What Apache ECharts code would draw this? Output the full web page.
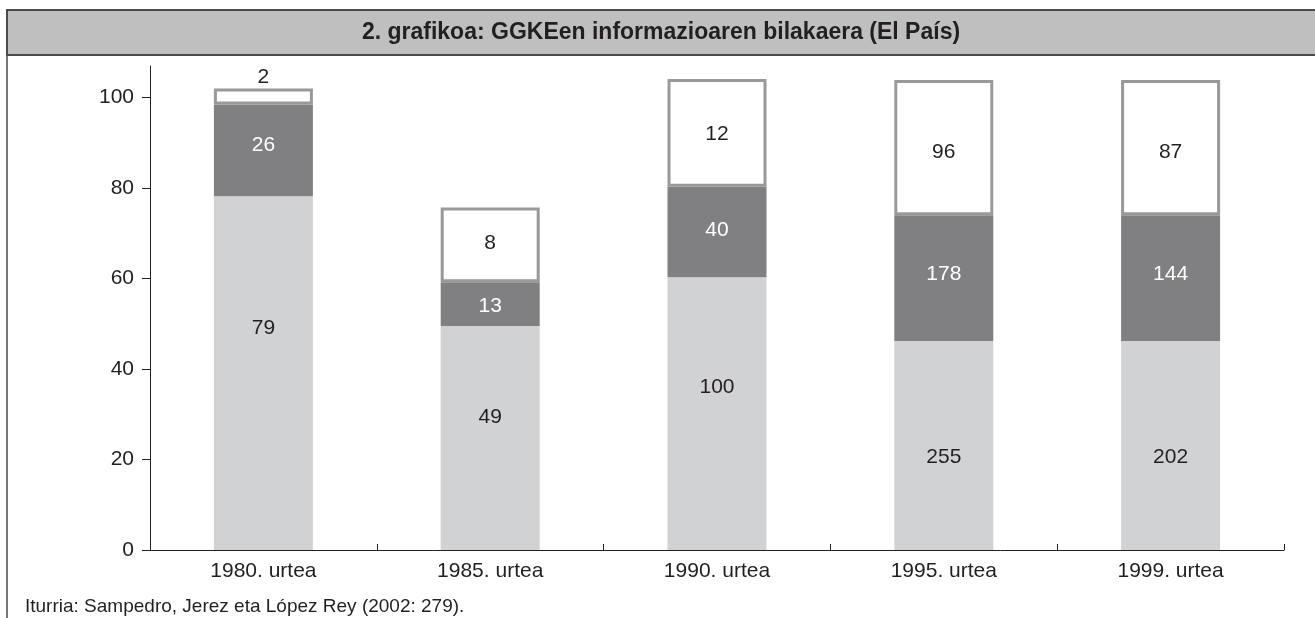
<!DOCTYPE html>
<html>
<head>
<meta charset="utf-8">
<script src="https://cdn.jsdelivr.net/npm/echarts@6/dist/echarts.min.js"></script>
<style>
html,body{margin:0;padding:0;background:#fff;}
#chart{width:1315px;height:618px;}
</style>
</head>
<body>
<div id="chart"></div>
<script>
// ---- data ----
const categories = ['1980. urtea', '1985. urtea', '1990. urtea', '1995. urtea', '1999. urtea'];
// bar segment heights as read from the y-axis
const lightHeights = [78.2, 49.5, 60.3, 46.2, 46.2];
const darkHeights  = [20.3, 9.7, 20.0, 27.8, 27.8];
const whiteHeights = [3.5, 16.5, 23.8, 29.9, 29.9];
// numbers printed on the segments
const lightLabels = [79, 49, 100, 255, 202];
const darkLabels  = [26, 13, 40, 178, 144];
const whiteLabels = [2, 8, 12, 96, 87];
const yTicks = [0, 20, 40, 60, 80, 100];
const titleText = '2. grafikoa: GGKEen informazioaren bilakaera (El País)';
const sourceText = 'Iturria: Sampedro, Jerez eta López Rey (2002: 279).';

// ---- styling ----
const FONT = "'Liberation Sans', Arial, Helvetica, sans-serif";
const TXT = '#231f20';
const lightOffsetY = [-45, -21, -26, 12, 12];
const darkOffsetY = [-5, 2, -2, -4, -4];
const whiteOffsetY = [0, -2, 1, 5, 5];

function items(vals, labels, fn) {
  return vals.map((v, i) => {
    const it = { value: v, lbl: labels[i] };
    const extra = fn ? fn(i) : null;
    if (extra) it.label = extra;
    return it;
  });
}

const chart = echarts.init(document.getElementById('chart'), null, { renderer: 'canvas' });
const labelBase = { show: true, fontFamily: FONT, fontSize: 21, formatter: p => p.data.lbl };

chart.setOption({
  animation: false,
  backgroundColor: '#fff',
  grid: { left: 150, right: 31, top: 66, bottom: 68, containLabel: false },
  xAxis: {
    type: 'category',
    data: categories,
    axisLine: { lineStyle: { color: TXT, width: 1 } },
    axisTick: { show: true, inside: true, length: 6, lineStyle: { color: TXT } },
    axisLabel: { color: TXT, fontFamily: FONT, fontSize: 21, margin: 11 }
  },
  yAxis: {
    type: 'value',
    min: 0, max: 107, interval: 20,
    axisLine: { show: true, lineStyle: { color: TXT, width: 1 } },
    axisTick: { show: true, length: 8, lineStyle: { color: TXT }, customValues: yTicks },
    axisLabel: { color: TXT, fontFamily: FONT, fontSize: 21, margin: 16, customValues: yTicks },
    splitLine: { show: false }
  },
  series: [
    {
      type: 'bar', stack: 's', barWidth: 99,
      itemStyle: { color: '#d1d2d4' },
      label: Object.assign({}, labelBase, { position: 'inside', color: TXT }),
      data: items(lightHeights, lightLabels, i => ({ offset: [0, lightOffsetY[i]] }))
    },
    {
      type: 'bar', stack: 's', barWidth: 99,
      itemStyle: { color: '#808082' },
      label: Object.assign({}, labelBase, { position: 'inside', color: '#ffffff' }),
      data: items(darkHeights, darkLabels, i => ({ offset: [0, darkOffsetY[i]] }))
    },
    {
      type: 'bar', stack: 's', barWidth: 99,
      itemStyle: { color: '#ffffff', borderColor: '#98999b', borderWidth: 3 },
      label: Object.assign({}, labelBase, { position: 'inside', color: TXT }),
      data: items(whiteHeights, whiteLabels, i => whiteHeights[i] < 6
        ? { position: 'top', distance: 1 }
        : { offset: [0, whiteOffsetY[i]] })
    }
  ],
  graphic: [
    { type: 'rect', shape: { x: 7, y: 10, width: 1320, height: 45 },
      style: { fill: '#bfbfbf', stroke: '#4a4a4a', lineWidth: 2 }, z: 0 },
    { type: 'line', shape: { x1: 7, y1: 55, x2: 7, y2: 620 },
      style: { stroke: '#4a4a4a', lineWidth: 1.5 } },
    { type: 'text', x: 661, y: 33,
      style: { text: titleText, font: 'bold 23px ' + FONT, fill: TXT, textAlign: 'center', textVerticalAlign: 'middle' } },
    { type: 'text', x: 25, y: 607,
      style: { text: sourceText, font: '19px ' + FONT, fill: TXT, textAlign: 'left', textVerticalAlign: 'middle' } }
  ]
});
</script>
</body>
</html>
